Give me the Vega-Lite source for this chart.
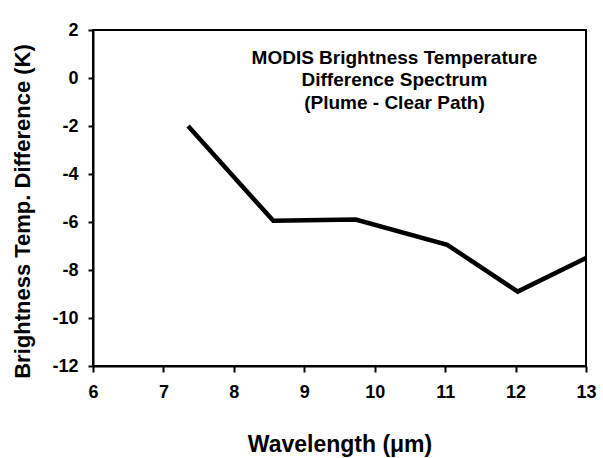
{
  "$schema": "https://vega.github.io/schema/vega-lite/v6.json",
  "width": 493,
  "height": 336,
  "autosize": "none",
  "padding": {"left": 93, "top": 30, "right": 17, "bottom": 92},
  "background": "white",
  "config": {
    "font": "Liberation Sans",
    "view": {"stroke": "black", "strokeWidth": 2}
  },
  "datasets": {
    "spectrum": [
      {"wavelength": 7.35, "diff": -2.0},
      {"wavelength": 8.56, "diff": -5.95},
      {"wavelength": 9.73, "diff": -5.9},
      {"wavelength": 11.03, "diff": -6.95},
      {"wavelength": 12.03, "diff": -8.9},
      {"wavelength": 13.0, "diff": -7.5}
    ],
    "labels": [
      {"x": 10.28, "y": 0.83, "t": "MODIS Brightness Temperature"},
      {"x": 10.28, "y": -0.1, "t": "Difference Spectrum"},
      {"x": 10.28, "y": -1.04, "t": "(Plume - Clear Path)"}
    ]
  },
  "layer": [
    {
      "data": {"name": "spectrum"},
      "mark": {"type": "line", "color": "black", "strokeWidth": 4.5, "clip": true},
      "encoding": {
        "x": {
          "field": "wavelength", "type": "quantitative",
          "scale": {"domain": [6, 13], "nice": false, "zero": false},
          "axis": {
            "title": "Wavelength (\u03bcm)", "values": [6,7,8,9,10,11,12,13], "labelExpr": "'' + datum.value",
            "grid": false, "domainColor": "black", "domainWidth": 2,
            "tickColor": "black", "tickWidth": 2, "tickSize": 6,
            "labelFont": "Liberation Sans", "labelFontSize": 18, "labelFontWeight": "bold",
            "labelColor": "black", "labelPadding": 11, "labelFlush": false,
            "titleFont": "Liberation Sans", "titleFontSize": 23, "titleFontWeight": "bold",
            "titleColor": "black", "titlePadding": 32
          }
        },
        "y": {
          "field": "diff", "type": "quantitative",
          "scale": {"domain": [-12, 2], "nice": false, "zero": false},
          "axis": {
            "title": "Brightness Temp. Difference (K)", "values": [-12,-10,-8,-6,-4,-2,0,2], "labelExpr": "'' + datum.value",
            "grid": false, "domainColor": "black", "domainWidth": 2,
            "tickColor": "black", "tickWidth": 2, "tickSize": 5,
            "labelFont": "Liberation Sans", "labelFontSize": 18, "labelFontWeight": "bold",
            "labelColor": "black", "labelPadding": 10, "labelFlush": false,
            "titleFont": "Liberation Sans", "titleFontSize": 22, "titleFontWeight": "bold",
            "titleColor": "black", "titlePadding": 17, "titleY": 181
          }
        }
      }
    },
    {
      "data": {"name": "labels"},
      "mark": {"type": "text", "font": "Liberation Sans", "fontSize": 19, "fontWeight": "bold", "color": "black", "align": "center", "baseline": "middle"},
      "encoding": {
        "x": {"field": "x", "type": "quantitative"},
        "y": {"field": "y", "type": "quantitative"},
        "text": {"field": "t"}
      }
    }
  ]
}
